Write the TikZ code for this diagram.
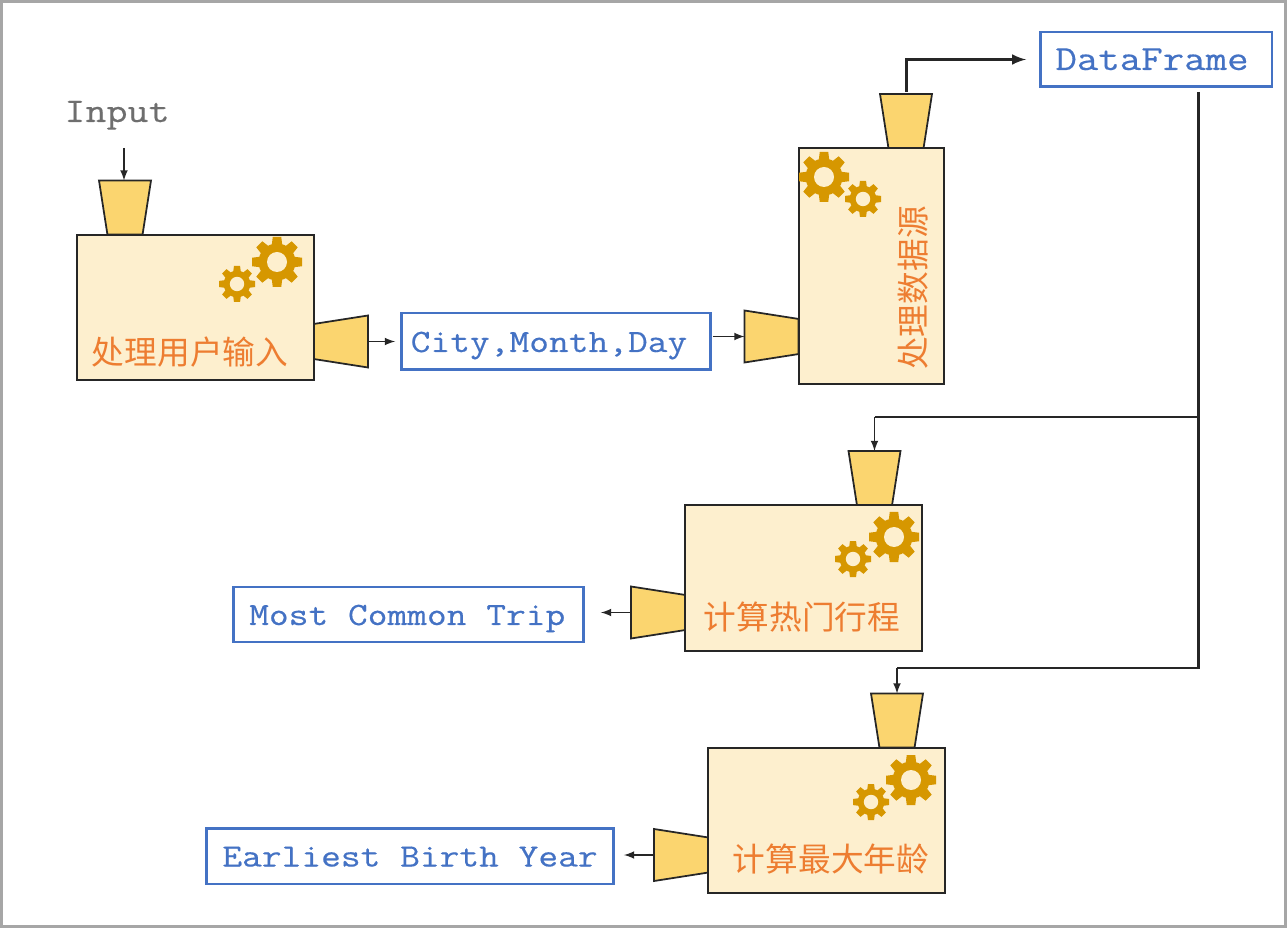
\documentclass[tikz,border=0pt]{standalone}
\usepackage{xcolor}
\usepackage{fontspec}
\setmonofont[FakeStretch=1.18,FakeBold=.4]{Latin Modern Mono}
\newfontfamily\cjkfont{Noto Sans CJK SC}
\usetikzlibrary{shapes.geometric}
\definecolor{boxfill}{HTML}{FDEFCE}
\definecolor{funnelfill}{HTML}{FBD56F}
\definecolor{gearfill}{HTML}{D69700}
\definecolor{labelblue}{HTML}{4472C4}
\definecolor{labelorange}{HTML}{ED7D31}
\definecolor{framegray}{HTML}{A6A6A6}
\definecolor{inputgray}{HTML}{6E6E6E}
\definecolor{linedark}{HTML}{262626}
\tikzset{
    machine/.style={draw=linedark,fill=boxfill,line width=1.1pt,inner sep=0pt,outer sep=0pt},
    funnel/.style={trapezium,trapezium angle=76.5,trapezium stretches=true,draw=linedark,fill=funnelfill,
        line width=1pt,inner sep=1pt,outer sep=0pt,minimum width=1.04cm,minimum height=1.08cm},
    data/.style={draw=labelblue,line width=1.7pt,text=labelblue,inner sep=0pt,outer sep=0pt,
        text height=.42cm,text depth=0pt,font=\ttfamily\fontsize{18.5}{22}\selectfont},
    jobname/.style={text=labelorange,inner sep=0pt,font=\cjkfont\fontsize{18.6}{22}\selectfont},
    flow/.style={draw=linedark,line width=1pt,-latex},
    bus/.style={draw=linedark,line width=1.7pt}
}
\newcommand{\gearicon}[3]{%
    \begin{scope}[shift={(#1,#2)}]
        \foreach \a in {0,45,...,315}
            \fill[gearfill,rotate=\a] (-.22*#3,.6*#3) -- (-.17*#3,#3) -- (.17*#3,#3) -- (.22*#3,.6*#3) -- cycle;
        \fill[gearfill] (0,0) circle (.74*#3);
        \fill[boxfill] (0,0) circle (.4*#3);
    \end{scope}}

\begin{document}
\begin{tikzpicture}[x=.02cm,y=-.02cm]
        \useasboundingbox (0,0) rectangle (1287,928);
        \draw[framegray,line width=1.7pt] (1.5,1.5) rectangle (1285.5,926.5);
        % machines
        \draw (195.5,307.5) node[machine,minimum width=4.74cm,minimum height=2.9cm](readBox) {};
        \draw (871.5,266) node[machine,minimum width=2.9cm,minimum height=4.72cm](loadBox) {};
        \draw (803.5,578) node[machine,minimum width=4.74cm,minimum height=2.92cm](tripBox) {};
        \draw (826.5,820.5) node[machine,minimum width=4.74cm,minimum height=2.9cm](ageBox) {};
        % funnels
        \draw (125,207.5) node[funnel,rotate=180](readIn) {};
        \draw (341,341.5) node[funnel,rotate=90](readOut) {};
        \draw (771.5,336.5) node[funnel,rotate=-90](loadIn) {};
        \draw (906,121) node[funnel,rotate=180](loadOut) {};
        \draw (874.5,478) node[funnel,rotate=180](tripIn) {};
        \draw (658,612.5) node[funnel,rotate=-90](tripOut) {};
        \draw (897,720.5) node[funnel,rotate=180](ageIn) {};
        \draw (681,855) node[funnel,rotate=-90](ageOut) {};
        % data
        \draw (556,341.5) node[data,minimum width=6.2cm,minimum height=1.14cm](cityData) {City,Month,Day\hspace*{.28cm}};
        \draw (1156,59.5) node[data,minimum width=4.64cm,minimum height=1.1cm,font=\ttfamily\fontsize{20.1}{24}\selectfont](frameData) {DataFrame\hspace*{.16cm}};
        \draw (408.5,614.5) node[data,minimum width=7.02cm,minimum height=1.1cm](tripData) {Most Common Trip\hspace*{.05cm}};
        \draw (410,856) node[data,minimum width=8.16cm,minimum height=1.12cm](ageData) {Earliest Birth Year};
        \draw (117,113) node[text=inputgray,inner sep=0pt,text height=.36cm,text depth=0pt,font=\ttfamily\fontsize{19.7}{24}\selectfont](inputText) {Input};
        % names
        \draw (190,352) node[jobname](readName) {处理用户输入};
        \draw (913,288) node[jobname,rotate=90](loadName) {处理数据源};
        \draw (802,617) node[jobname](tripName) {计算热门行程};
        \draw (831,859) node[jobname](ageName) {计算最大年龄};
        % gears
        \gearicon{277}{262}{25}
        \gearicon{237}{284}{18}
        \gearicon{824}{177}{25}
        \gearicon{863}{199}{18}
        \gearicon{894}{537}{25}
        \gearicon{853}{559}{18}
        \gearicon{911}{780}{25}
        \gearicon{871}{802}{18}
        % connectors
        \coordinate (inputEnd) at (124,148);
        \coordinate (teeTrip) at (1198,417);
        \coordinate (teeAge) at (1198,668);
        \draw[flow] (inputEnd) -- (inputEnd |- readIn.bottom side);
        \draw[flow,shorten >=.12cm] (readOut.bottom side) -- (cityData.west |- readOut.bottom side);
        \draw[flow,shorten <=.04cm] (cityData.east |- loadIn.bottom side) -- (loadIn.bottom side);
        \draw[bus,-latex,shorten <=.04cm,shorten >=.28cm] (loadOut.bottom side) -- (loadOut.bottom side |- frameData.west) -- (frameData.west);
        \draw[bus,shorten <=.1cm] (teeAge |- frameData.south) -- (teeAge) -- (teeAge -| ageIn.bottom side);
        \draw[bus] (teeTrip) -- (teeTrip -| tripIn.bottom side);
        \draw[flow] (teeTrip -| tripIn.bottom side) -- (tripIn.bottom side);
        \draw[flow] (teeAge -| ageIn.bottom side) -- (ageIn.bottom side);
        \draw[flow,shorten >=.34cm] (tripOut.bottom side) -- (tripData.east |- tripOut.bottom side);
        \draw[flow,shorten >=.2cm] (ageOut.bottom side) -- (ageData.east |- ageOut.bottom side);
    \end{tikzpicture}
\end{document}
